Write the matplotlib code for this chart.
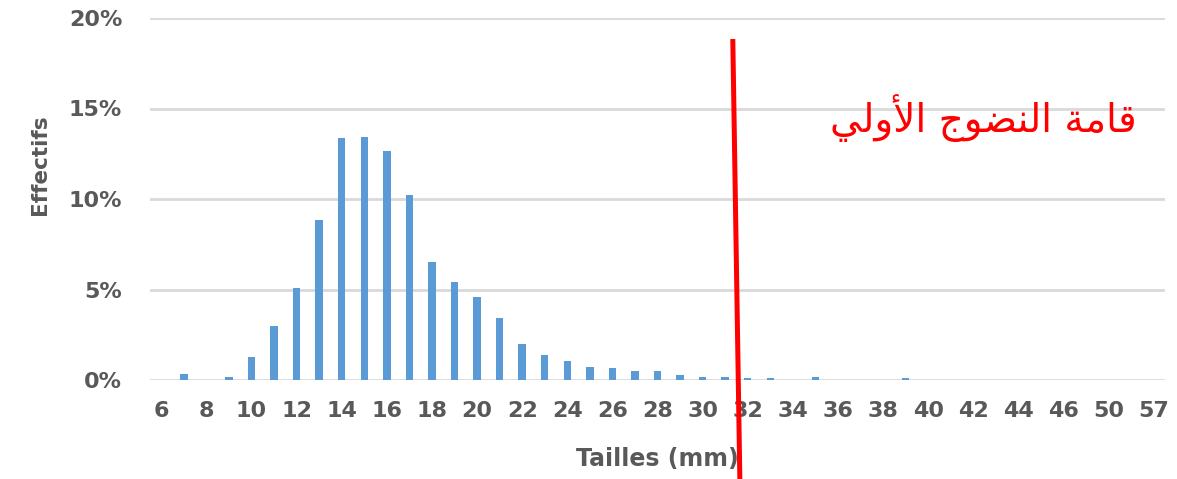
import matplotlib
matplotlib.use("Agg")
import matplotlib.pyplot as plt
import numpy as np

# Data
tailles = list(range(6, 47)) + [48, 50, 52, 57]
effectifs = [0.0, 0.33, 0.0, 0.18, 1.29, 3.01, 5.06, 8.82, 13.35, 13.44,
             12.67, 10.22, 6.54, 5.44, 4.58, 3.45, 2.0, 1.38, 1.06, 0.72,
             0.64, 0.49, 0.49, 0.25, 0.17, 0.17, 0.1, 0.1, 0.0, 0.17,
             0.0, 0.0, 0.0, 0.1, 0.0, 0.0, 0.0, 0.0, 0.0, 0.0,
             0.0, 0.0, 0.0, 0.0, 0.0]

# red "maturity" marker (position in category index units, y in %)
maturite_x = [25.34, 25.65]
maturite_y = [18.7, -5.4]

# "قامة النضوج الأولي" written in presentation forms, visual order
label_ar = ("\uFEF2\uFEDF\uFEED\uFEF7\uFE8D" + " " +
            "\uFE9D\uFEEE\uFEC0\uFEE8\uFEDF\uFE8D" + " " +
            "\uFE94\uFEE3\uFE8E\uFED7")

gray = "#595959"
blue = "#5B9BD5"

fig = plt.figure(figsize=(11.77, 4.79), dpi=100)
ax = fig.add_axes([150/1177, 1-380/479, 1015/1177, 362/479])

x = np.arange(len(tailles))
ax.bar(x, effectifs, width=0.33, color=blue, zorder=3)

ax.set_xlim(-0.5, len(tailles) - 0.5)
ax.set_ylim(0, 20)
ax.set_yticks([0, 5, 10, 15, 20])
ax.set_yticklabels(["%d%%" % v for v in [0, 5, 10, 15, 20]])
ax.set_xticks(x[::2])
ax.set_xticklabels([str(t) for t in tailles[::2]])

ax.grid(axis="y", color="#d9d9d9", linewidth=2, zorder=0)
for s in ax.spines.values():
    s.set_visible(False)
ax.tick_params(length=0, labelsize=16, labelcolor=gray)
ax.tick_params(axis="y", pad=20)
ax.tick_params(axis="x", pad=15)
for lab in ax.get_xticklabels() + ax.get_yticklabels():
    lab.set_fontweight("bold")

ax.set_xlabel("Tailles (mm)", fontsize=17, fontweight="bold", color=gray, labelpad=19)
ax.set_ylabel("Effectifs", fontsize=15.5, fontweight="bold", color=gray)
ax.yaxis.set_label_coords(-0.099, 0.594)

ax.plot(maturite_x, maturite_y, color="red", linewidth=3.6, clip_on=False, zorder=5)
ax.text(0.972, 0.724, label_ar, transform=ax.transAxes, ha="right", va="center",
        fontsize=28, color="red", family="DejaVu Sans")

fig.savefig("out.png", dpi=100)
